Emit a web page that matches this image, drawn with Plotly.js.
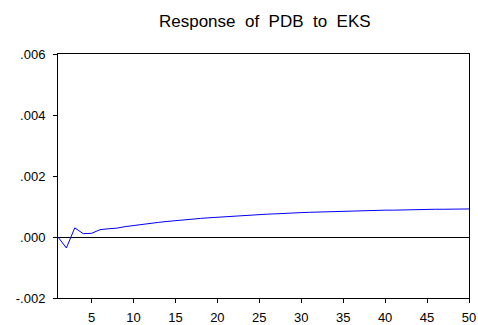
<!DOCTYPE html>
<html>
<head>
<meta charset="utf-8">
<script src="https://cdn.plot.ly/plotly-3.0.1.min.js"></script>
<style>html,body{margin:0;padding:0;background:#fff;}#chart{width:478px;height:325px;}</style>
</head>
<body>
<div id="chart"></div>
<script>
const periods = Array.from({length: 50}, (_, i) => i + 1);
const response = [
  0.00000, -0.00036, 0.00030, 0.00011, 0.00012, 0.00024, 0.00027, 0.00029, 0.00034, 0.00038,
  0.00041, 0.00045, 0.00048, 0.00051, 0.00054, 0.00056, 0.00059, 0.00061, 0.00063, 0.00065,
  0.00067, 0.00069, 0.00071, 0.00072, 0.00074, 0.00075, 0.00076, 0.00078, 0.00079, 0.00080,
  0.00081, 0.00082, 0.00083, 0.00084, 0.00085, 0.00085, 0.00086, 0.00087, 0.00087, 0.00088,
  0.00088, 0.00089, 0.00089, 0.00090, 0.00090, 0.00091, 0.00091, 0.00091, 0.00092, 0.00092
];
const yTickVals = [-0.002, 0, 0.002, 0.004, 0.006];
const yTickText = ['-.002', '.000', '.002', '.004', '.006'];
const xTickVals = [5, 10, 15, 20, 25, 30, 35, 40, 45, 50];
const chartTitle = 'Response \u00a0of \u00a0PDB \u00a0to \u00a0EKS';

const trace = {
  x: periods, y: response, type: 'scatter', mode: 'lines',
  line: {color: '#0000ff', width: 1}, hoverinfo: 'skip'
};
const layout = {
  width: 478, height: 325,
  margin: {l: 58, r: 9, t: 54, b: 27},
  paper_bgcolor: '#fff', plot_bgcolor: '#fff',
  font: {family: 'Liberation Sans, Arial, sans-serif', size: 13, color: '#000'},
  showlegend: false,
  title: {text: chartTitle, font: {size: 17, color: '#000'}, x: 0.554, xanchor: 'center', y: 0.935, yanchor: 'middle', yref: 'container'},
  xaxis: {
    range: [1, 50], tickvals: xTickVals, ticks: 'outside', ticklen: 4, tickcolor: '#000',
    ticklabelstandoff: 3,
    showline: true, linecolor: '#000', linewidth: 1, mirror: true,
    showgrid: false, zeroline: false, fixedrange: true
  },
  yaxis: {
    range: [-0.002, 0.006], tickvals: yTickVals, ticktext: yTickText,
    ticks: 'outside', ticklen: 4, tickcolor: '#000', ticklabelstandoff: 5,
    showline: true, linecolor: '#000', linewidth: 1, mirror: true,
    showgrid: false, zeroline: true, zerolinecolor: '#000', zerolinewidth: 1, fixedrange: true
  }
};
Plotly.newPlot('chart', [trace], layout, {staticPlot: true, displayModeBar: false});
</script>
</body>
</html>
